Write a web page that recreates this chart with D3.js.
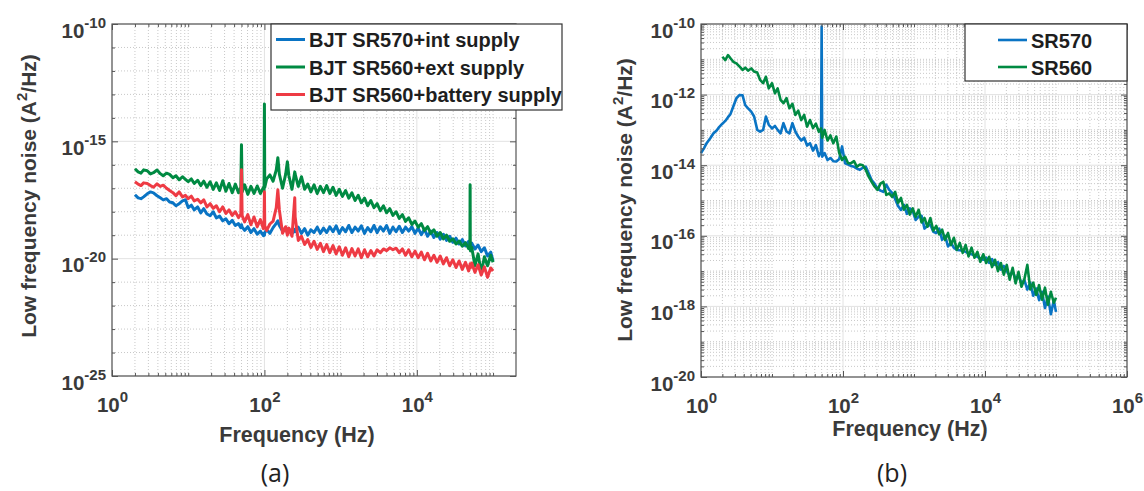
<!DOCTYPE html>
<html>
<head>
<meta charset="utf-8">
<script src="https://cdn.jsdelivr.net/npm/d3@7"></script>
<style>
body { margin: 0; background: #fff; }
svg text { font-family: "Liberation Sans", Arial, sans-serif; }
</style>
</head>
<body>
<svg id="chart" width="1144" height="491"></svg>
<script>
// panel (a): frequency grid (Hz) and noise (A^2/Hz) per setup
var freqA = [2,2.2,2.4,2.6,2.9,3.2,3.5,3.9,4.3,4.7,5.2,5.7,6.3,6.9,7.6,8.4,9.2,10,11,12,13.3,14.6,16,17.6,19.4,21.3,23.4,25.8,28.4,31.2,34.3,37.8,41.5,45.7,49,50,51,55,60.5,66.5,73,80.5,88.5,97,99,100,101,107,118,130,143,150,157,173,190,200,209,230,250,253,278,306,337,370,407,448,493,542,596,656,721,794,873,960,1056,1162,1278,1406,1546,1701,1871,2058,2264,2490,2739,3013,3315,3646,4011,4412,4853,5338,5872,6459,7105,7816,8597,9457,10400,11440,12580,13840,15230,16750,18420,20270,22290,24520,26970,29670,32640,35900,39490,43440,47790,49700,50000,50300,52570,57820,63600,69960,76960,84660,93120,100000];

var sr570Int = [5.3e-18,3.9e-18,3.6e-18,4.3e-18,5.8e-18,7e-18,6.4e-18,4.8e-18,3.9e-18,3.2e-18,3.6e-18,2.6e-18,2.4e-18,1.8e-18,2.2e-18,2.9e-18,3.2e-18,1.5e-18,1.9e-18,1.2e-18,1.6e-18,9e-19,1.35e-18,8e-19,6.8e-19,1e-18,5.5e-19,6.5e-19,4.1e-19,5e-19,3.1e-19,4.3e-19,2.6e-19,3.1e-19,2.1e-19,2.8e-19,2.2e-19,1.6e-19,2.3e-19,1.3e-19,1.9e-19,1.1e-19,1.5e-19,9.5e-20,1.2e-19,1e-19,1.3e-19,1.7e-19,1.2e-19,2.1e-19,3.2e-19,4.1e-19,2.6e-19,1.5e-19,2.1e-19,1.3e-19,1.9e-19,1.15e-19,1.8e-19,1.4e-19,2.2e-19,1.2e-19,1.9e-19,1e-19,1.7e-19,1.3e-19,2.2e-19,1.2e-19,2e-19,1.3e-19,2.3e-19,1.4e-19,2.5e-19,1.2e-19,2.1e-19,1.4e-19,2.6e-19,1.3e-19,2.2e-19,1.5e-19,2.5e-19,1.2e-19,2.1e-19,1.4e-19,2.6e-19,1.3e-19,2.3e-19,1.5e-19,2.6e-19,1.2e-19,2.2e-19,1.4e-19,2.4e-19,1.3e-19,2.2e-19,1.5e-19,2.3e-19,1.2e-19,2e-19,1.05e-19,1.8e-19,9e-20,1.5e-19,8e-20,1.3e-19,6.8e-20,1.1e-19,6e-20,9e-20,5e-20,7.5e-20,4.2e-20,6.5e-20,3.5e-20,5.5e-20,3e-20,4.5e-20,3.2e-20,4.6e-20,2.6e-20,3.8e-20,2e-20,2.9e-20,1.3e-20,1.9e-20,8e-21];

var sr560Ext = [6.8e-17,5e-17,4.4e-17,6.1e-17,5.6e-17,4.1e-17,4.6e-17,6e-17,4.2e-17,3.4e-17,4.4e-17,3.9e-17,2.8e-17,3.4e-17,2.3e-17,3.1e-17,2.4e-17,1.9e-17,2.5e-17,1.6e-17,2.2e-17,1.3e-17,2e-17,1.1e-17,1.9e-17,9e-18,1.7e-17,8e-18,2.1e-17,7.5e-18,1.6e-17,6.4e-18,1.5e-17,6.4e-18,1.1e-17,7.1e-16,7e-18,1.4e-17,5.5e-18,1.2e-17,6e-18,1.25e-17,6e-18,1.1e-17,8e-18,3.9e-14,1.1e-17,2.5e-17,3.7e-17,2e-17,6e-17,2e-16,4e-17,1e-17,4e-17,1.35e-16,3.5e-17,9e-18,5e-17,4e-17,1.2e-17,3.1e-17,9e-18,1.5e-17,7e-18,1.4e-17,6e-18,1.2e-17,6.5e-18,1.3e-17,6e-18,1.1e-17,5e-18,9e-18,4.5e-18,8e-18,3.8e-18,6.4e-18,3e-18,5e-18,2.4e-18,3.8e-18,1.8e-18,3e-18,1.5e-18,2.2e-18,1.1e-18,1.8e-18,9e-19,1.35e-18,7e-19,1e-18,5.2e-19,7.5e-19,3.9e-19,5.5e-19,2.9e-19,4e-19,2.2e-19,3.1e-19,1.6e-19,2.3e-19,1.2e-19,1.7e-19,9e-20,1.3e-19,7e-20,1e-19,5.5e-20,7e-20,4.2e-20,5.6e-20,3.4e-20,4.8e-20,2.7e-20,3.6e-20,1.4e-17,2.2e-20,3e-20,5e-21,1.6e-20,2.5e-21,1.2e-20,5e-21,1.4e-20,7e-21];

var sr560Battery = [1.9e-17,1.5e-17,1.3e-17,1.7e-17,1.6e-17,1.3e-17,1.1e-17,1.55e-17,1.2e-17,1.35e-17,1e-17,8e-18,6.5e-18,4.8e-18,7e-18,4.3e-18,5e-18,3.6e-18,4.6e-18,2.9e-18,3.4e-18,2.4e-18,3.2e-18,1.6e-18,2.2e-18,1.4e-18,1.8e-18,1e-18,1.6e-18,8.5e-19,1.2e-18,7e-19,1e-18,5.6e-19,8e-19,6.1e-17,6.8e-19,3.7e-19,7.5e-19,2.8e-19,6e-19,2.3e-19,4.6e-19,1.9e-19,3e-19,7.1e-18,2.5e-19,1.6e-19,3e-19,4e-19,1.5e-18,8.6e-18,1.2e-18,1.2e-19,2.3e-19,1e-19,2e-19,9e-20,3.9e-18,6e-19,6e-20,9e-20,4e-20,6.5e-20,3e-20,5.5e-20,2.5e-20,4.5e-20,2e-20,4e-20,1.8e-20,3.6e-20,1.6e-20,3.2e-20,1.4e-20,2.9e-20,1.2e-20,2.7e-20,1.3e-20,2.6e-20,1.1e-20,2.4e-20,1.2e-20,2.2e-20,1.3e-20,2.4e-20,1.8e-20,2.6e-20,2.2e-20,2.9e-20,2.4e-20,2.8e-20,1.8e-20,2.6e-20,1.4e-20,2.4e-20,1.2e-20,2.1e-20,1.1e-20,1.9e-20,9e-21,1.7e-20,8e-21,1.4e-20,7e-21,1.3e-20,6e-21,1.1e-20,5e-21,9e-21,4.2e-21,8e-21,3.5e-21,7e-21,3e-21,5.5e-21,6e-21,4e-21,6.5e-21,2.6e-21,5.5e-21,2e-21,4.5e-21,1.6e-21,4e-21,3e-21];

// panel (b)
var freqB = [1,1.1,1.2,1.35,1.5,1.65,1.8,2,2.2,2.4,2.6,2.85,3.15,3.5,3.85,4.2,4.6,5.1,5.6,6.2,6.8,7.5,8.2,9,10,11,12,13.2,14.5,16,17.6,19.4,21.3,23.4,25.8,28.4,31.2,34.3,37.8,41.5,45.7,49,50,51,55,60.5,66.5,73,80.5,88.5,97,107,118,130,143,157,173,190,209,230,253,278,306,337,370,407,448,493,542,596,656,721,794,873,960,1056,1162,1278,1406,1546,1701,1871,2058,2264,2490,2739,3013,3315,3646,4011,4412,4853,5338,5872,6459,7105,7816,8597,9457,10400,11440,12580,13840,15230,16750,18420,20270,22290,24520,26970,29670,32640,35900,39490,43440,47790,52570,57820,63600,69960,76960,84660,93120,100000];

var sr570 = [2.2e-14,3e-14,4.2e-14,5.8e-14,8e-14,9.5e-14,1.2e-13,1.5e-13,1.8e-13,2.3e-13,2.8e-13,4.6e-13,7.9e-13,9.8e-13,9.5e-13,5e-13,4.1e-13,3.3e-13,2.4e-13,1e-13,8.9e-14,1e-13,2.4e-13,1.4e-13,1.1e-13,1.3e-13,1e-13,8e-14,1.55e-13,9e-14,8e-14,1.55e-13,9e-14,6.5e-14,5e-14,6e-14,3.6e-14,4.2e-14,2.6e-14,3.7e-14,1.8e-14,2.4e-14,8.4e-11,1.75e-14,2.2e-14,1.4e-14,1.6e-14,1.3e-14,1.27e-14,1.5e-14,3.4e-14,1.14e-14,1.05e-14,9.5e-15,9.1e-15,8e-15,7.4e-15,8.5e-15,9.1e-15,5.9e-15,3.8e-15,3e-15,2.2e-15,1.9e-15,1.75e-15,2.8e-15,2e-15,1.65e-15,1.1e-15,7e-16,5.4e-16,7.5e-16,4.2e-16,6e-16,5e-16,2.8e-16,3.5e-16,3.7e-16,1.6e-16,1.9e-16,2.05e-16,1.3e-16,1.2e-16,1.6e-16,7.7e-17,1e-16,5e-17,6.3e-17,4.6e-17,4e-17,3.9e-17,3.75e-17,3.5e-17,3.2e-17,3e-17,2.8e-17,2.55e-17,2.3e-17,2.1e-17,2.4e-17,1.7e-17,2.2e-17,1.5e-17,1.8e-17,1.1e-17,1.4e-17,1e-17,7.4e-18,1e-17,6e-18,7.5e-18,4.5e-18,5.5e-18,3e-18,4.7e-18,2e-18,3.2e-18,1.5e-18,2.6e-18,9e-19,1.9e-18,6e-19,1.5e-18,7e-19];

var sr560 = [null,null,null,null,null,null,null,1.18e-11,9.5e-12,1.32e-11,1.07e-11,8.5e-12,7.7e-12,6.2e-12,5e-12,5.8e-12,4.8e-12,5.5e-12,4.5e-12,4.2e-12,2.6e-12,2.1e-12,3.2e-12,1.5e-12,2.1e-12,1.09e-12,1.5e-12,7.1e-13,5.7e-13,7.9e-13,4.1e-13,5.5e-13,2.65e-13,3.5e-13,1.9e-13,2.65e-13,1.24e-13,1.9e-13,1.12e-13,1.5e-13,8.9e-14,1.1e-13,8e-14,6e-14,1e-13,5e-14,7e-14,4.2e-14,6.5e-14,2.2e-14,1.41e-14,1.75e-14,1.14e-14,1.14e-14,1.3e-14,9e-15,1.05e-14,1e-14,7.4e-15,4.75e-15,3.4e-15,2.5e-15,2e-15,3e-15,3.4e-15,1.44e-15,1.6e-15,1.27e-15,1.75e-15,8.6e-16,1.18e-15,5.5e-16,7.5e-16,4e-16,6e-16,3.45e-16,5.45e-16,2.4e-16,3.2e-16,1.8e-16,3.2e-16,1.4e-16,1.9e-16,1.1e-16,1.5e-16,7.7e-17,1.2e-16,5.5e-17,8.8e-17,4e-17,6.3e-17,3.3e-17,5.5e-17,2.6e-17,4.6e-17,2.4e-17,3.5e-17,1.83e-17,3e-17,1.7e-17,2.55e-17,1.3e-17,2.1e-17,1e-17,1.7e-17,7.9e-18,1.5e-17,5.7e-18,1.24e-17,4.5e-18,9.5e-18,3.6e-18,6e-18,1.5e-17,3e-18,4.7e-18,2.1e-18,4e-18,1.54e-18,3.4e-18,1.11e-18,2.6e-18,1.27e-18,1.75e-18];

var namesA = ['BJT SR570+int supply', 'BJT SR560+ext supply', 'BJT SR560+battery supply'];
var namesB = ['SR570', 'SR560'];
var xTicksA = [1, 1e2, 1e4];
var yTicksA = [1e-25, 1e-20, 1e-15, 1e-10];
var xTicksB = [1, 1e2, 1e4, 1e6];
var yTicksB = [1e-20, 1e-18, 1e-16, 1e-14, 1e-12, 1e-10];

var blue = '#0a74c4';
var green = '#008a42';
var red = '#ee3b44';

var svg = d3.select('#chart');

function pairs(freq, vals) {
  return freq.map((f, i) => [f, vals[i]]).filter(d => d[1] != null);
}

function minorTicks(domain, major, sub) {
  var out = [];
  var lo = Math.round(Math.log10(domain[0]));
  var hi = Math.ceil(Math.log10(domain[1]));
  for (var k = lo; k <= hi; k++) {
    var base = Math.pow(10, k);
    if (major.indexOf(base) < 0 && base <= domain[1] * 1.0001 && base >= domain[0]) out.push(base);
    if (sub) {
      for (var m = 2; m <= 9; m++) {
        var v = m * base;
        if (v < domain[1] * 0.9999 && v > domain[0]) out.push(v);
      }
    }
  }
  return out;
}

function drawPanel(p) {
  var x = d3.scaleLog().domain(p.xDomain).range([p.left, p.right]);
  var y = d3.scaleLog().domain(p.yDomain).range([p.bottom, p.top]);
  var xMinor = minorTicks(p.xDomain, p.xTicks, true);
  var yMinor = minorTicks(p.yDomain, p.yTicks, p.ySub);
  var g = svg.append('g');

  // grid
  var grid = g.append('g');
  grid.selectAll('.gx').data(xMinor).enter().append('line')
    .attr('x1', d => x(d)).attr('x2', d => x(d))
    .attr('y1', p.top).attr('y2', p.bottom)
    .attr('stroke', '#c8c8c8').attr('stroke-dasharray', '1,2');
  grid.selectAll('.gy').data(yMinor).enter().append('line')
    .attr('y1', d => y(d)).attr('y2', d => y(d))
    .attr('x1', p.left).attr('x2', p.right)
    .attr('stroke', '#c8c8c8').attr('stroke-dasharray', '1,2');
  grid.selectAll('.mx').data(p.xTicks).enter().append('line')
    .attr('x1', d => x(d)).attr('x2', d => x(d))
    .attr('y1', p.top).attr('y2', p.bottom)
    .attr('stroke', '#e2e2e2');
  grid.selectAll('.my').data(p.yTicks).enter().append('line')
    .attr('y1', d => y(d)).attr('y2', d => y(d))
    .attr('x1', p.left).attr('x2', p.right)
    .attr('stroke', '#e2e2e2');

  // series
  var line = d3.line().x(d => x(d[0])).y(d => y(d[1]));
  p.series.forEach(function(s) {
    g.append('path')
      .datum(s.data)
      .attr('d', line)
      .attr('fill', 'none')
      .attr('stroke', s.color)
      .attr('stroke-width', p.lineWidth)
      .attr('stroke-linejoin', 'round');
  });

  // axes, ticks inward on all four sides; [axis, transform, labelled, label x, label y]
  var axes = [
    [d3.axisBottom(x), 'translate(0,' + p.bottom + ')', true, 0, 36],
    [d3.axisTop(x), 'translate(0,' + p.top + ')', false],
    [d3.axisLeft(y), 'translate(' + p.left + ',0)', true, -6, 13],
    [d3.axisRight(y), 'translate(' + p.right + ',0)', false]
  ];
  axes.forEach(function(a, i) {
    var isX = i < 2;
    var major = g.append('g')
      .attr('transform', a[1])
      .call(a[0].tickValues(isX ? p.xTicks : p.yTicks).tickSizeInner(-6).tickSizeOuter(0)
        .tickFormat(a[2] ? d3.format('') : ''));
    major.attr('color', '#555').attr('font-size', 20.5).attr('font-weight', 'bold');
    major.select('.domain').remove();
    var minor = g.append('g')
      .attr('transform', a[1])
      .call(a[0].tickValues(isX ? xMinor : yMinor).tickSizeInner(-3).tickSizeOuter(0).tickFormat(''));
    minor.attr('color', '#555');
    minor.select('.domain').remove();
    if (a[2]) {
      major.selectAll('.tick text').each(function(d) {
        var t = d3.select(this);
        t.text(null).attr('fill', '#3a3a3a').attr('x', a[3]).attr('y', a[4]).attr('dy', 0);
        t.append('tspan').text('10');
        t.append('tspan').attr('dy', -10).attr('font-size', 15).text(Math.round(Math.log10(d)));
      });
    }
  });

  g.append('rect')
    .attr('x', p.left).attr('y', p.top)
    .attr('width', p.right - p.left).attr('height', p.bottom - p.top)
    .attr('fill', 'none').attr('stroke', '#555').attr('stroke-width', 1.2);

  // axis titles
  g.append('text')
    .attr('x', p.xTitleX).attr('y', p.xTitleY)
    .attr('text-anchor', 'middle')
    .attr('font-size', 21.5).attr('font-weight', 'bold').attr('fill', '#3a3a3a')
    .text('Frequency (Hz)');
  var yt = g.append('text')
    .attr('transform', 'translate(' + p.yTitleX + ',' + p.yTitleY + ') rotate(-90)')
    .attr('text-anchor', 'middle')
    .attr('font-size', 21).attr('font-weight', 'bold').attr('fill', '#3a3a3a');
  yt.append('tspan').text('Low frequency noise (A');
  yt.append('tspan').attr('dy', -9).attr('font-size', 15).text('2');
  yt.append('tspan').attr('dy', 9).text('/Hz)');

  // legend
  var lg = g.append('g');
  lg.append('rect')
    .attr('x', p.legend.x).attr('y', p.top)
    .attr('width', p.legend.w).attr('height', p.legend.h)
    .attr('fill', '#fff').attr('stroke', '#333').attr('stroke-width', 1.2);
  p.series.forEach(function(s, i) {
    var ly = p.legend.y0 + i * p.legend.dy;
    lg.append('line')
      .attr('x1', p.legend.lx).attr('x2', p.legend.lx + 29)
      .attr('y1', ly).attr('y2', ly)
      .attr('stroke', s.color).attr('stroke-width', p.lineWidth);
    lg.append('text')
      .attr('x', p.legend.lx + 33).attr('y', ly + 7.5)
      .attr('font-size', 20).attr('font-weight', 'bold').attr('fill', '#1e1e1e')
      .text(s.name);
  });

  g.append('text')
    .attr('x', p.tagX).attr('y', 482)
    .attr('text-anchor', 'middle')
    .attr('font-size', 25)
    .attr('fill', '#222')
    .style('font-family', '"Open Sans", sans-serif')
    .text(p.tag);
}

drawPanel({
  left: 112, right: 516, top: 24, bottom: 376,
  xDomain: [1, 2e5], yDomain: [1e-25, 1e-10],
  xTicks: xTicksA, yTicks: yTicksA, ySub: false,
  lineWidth: 3,
  series: [
    { name: namesA[0], data: pairs(freqA, sr570Int), color: blue },
    { name: namesA[1], data: pairs(freqA, sr560Ext), color: green },
    { name: namesA[2], data: pairs(freqA, sr560Battery), color: red }
  ],
  legend: { x: 271, w: 291, h: 86, lx: 276, y0: 39.5, dy: 27.5 },
  xTitleX: 297, xTitleY: 442, yTitleX: 36, yTitleY: 196,
  tag: '(a)', tagX: 275
});

drawPanel({
  left: 701, right: 1127, top: 24, bottom: 377,
  xDomain: [1, 1e6], yDomain: [1e-20, 1e-10],
  xTicks: xTicksB, yTicks: yTicksB, ySub: true,
  lineWidth: 2.6,
  series: [
    { name: namesB[0], data: pairs(freqB, sr570), color: blue },
    { name: namesB[1], data: pairs(freqB, sr560), color: green }
  ],
  legend: { x: 965, w: 162, h: 57, lx: 998, y0: 40, dy: 27 },
  xTitleX: 910, xTitleY: 436, yTitleX: 632, yTitleY: 200,
  tag: '(b)', tagX: 892
});
</script>
</body>
</html>
